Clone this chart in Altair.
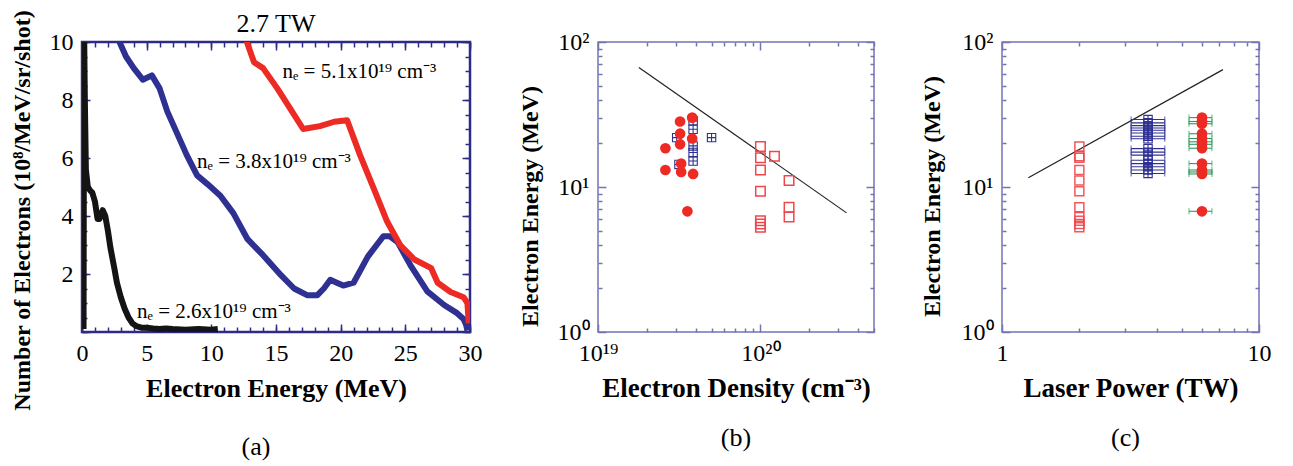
import altair as alt
import pandas as pd

FONT = "Liberation Serif"

# ---------------- panel (a): electron spectra at 2.7 TW ----------------
a_black_E = [0.12, 0.16, 0.22, 0.3, 0.45, 0.6, 0.8, 1.0, 1.2, 1.35, 1.6, 1.8, 2.0, 2.2, 2.5, 2.7,
             3.0, 3.3, 3.6, 3.9, 4.2, 4.6, 5.0, 5.5, 6.0, 6.5, 7.0, 8.0, 9.0, 10.0, 10.5]
a_black_N = [0.1, 10.5, 8.0, 5.6, 5.0, 4.9, 4.8, 4.5, 3.9, 3.9, 4.2, 4.0, 3.5, 2.9, 2.2, 1.7,
             1.2, 0.8, 0.5, 0.3, 0.2, 0.15, 0.15, 0.12, 0.1, 0.12, 0.1, 0.08, 0.1, 0.08, 0.1]

a_blue_E = [2.7, 2.9, 3.4, 4.0, 4.7, 5.4, 6.0, 6.6, 7.3, 8.1, 8.9, 9.7, 10.7, 11.7, 12.8, 14.0,
            15.4, 16.4, 17.4, 18.2, 18.7, 19.2, 19.7, 20.2, 21.0, 22.1, 23.3, 23.8, 24.4, 25.4,
            26.7, 28.0, 29.0, 29.5, 29.7, 29.8]
a_blue_N = [10.3, 10.0, 9.5, 9.1, 8.7, 8.85, 8.4, 7.6, 6.9, 6.1, 5.4, 5.1, 4.7, 4.1, 3.2, 2.65,
            1.95, 1.5, 1.27, 1.27, 1.5, 1.8, 1.7, 1.6, 1.7, 2.6, 3.3, 3.3, 3.1, 2.3,
            1.4, 0.93, 0.65, 0.45, 0.25, 0.05]

a_red_E = [12.6, 12.75, 13.3, 14.0, 15.1, 16.1, 17.1, 18.4, 19.5, 20.5, 21.5, 22.6, 23.6, 24.6,
           25.7, 27.0, 27.5, 28.5, 29.5, 29.8, 29.9]
a_red_N = [10.3, 10.0, 9.3, 9.1, 8.4, 7.7, 7.0, 7.1, 7.25, 7.3, 6.1, 4.9, 3.8, 3.0,
           2.5, 2.2, 1.7, 1.38, 1.2, 1.0, 0.3]

a_text = ["n\u2091 = 5.1x10\u00b9\u2079 cm\u207b\u00b3", "n\u2091 = 3.8x10\u00b9\u2079 cm\u207b\u00b3",
          "n\u2091 = 2.6x10\u00b9\u2079 cm\u207b\u00b3"]
a_text_E = [15.5, 8.9, 4.26]
a_text_N = [8.97, 5.86, 0.69]
a_head = ["2.7 TW"]
a_head_E = [15.0]
a_head_N = [10.62]

a_xmajor = [0, 5, 10, 15, 20, 25, 30]
a_xminor = list(range(0, 31))
a_ymajor = [0, 2, 4, 6, 8, 10]
a_yminor = [i * 0.5 for i in range(0, 21)]

# ---------------- panel (b): energy vs density ----------------
b_line_n = [1.785e19, 3.39e20]
b_line_E = [66.8, 6.63]

b_circ_n = [2.6e19, 2.6e19, 3.2e19, 3.2e19, 3.2e19, 3.25e19, 3.25e19, 3.8e19, 3.8e19, 3.85e19, 3.55e19]
b_circ_E = [18.5, 13.1, 28.3, 23.3, 19.7, 14.5, 12.7, 30.1, 21.6, 12.3, 6.8]

b_cross_n = [3.05e19, 3.15e19, 3.85e19, 3.85e19, 3.85e19, 3.85e19, 3.85e19, 5.0e19]
b_cross_E = [21.9, 14.3, 28.6, 25.0, 19.2, 17.3, 15.1, 21.9]

b_sq_n = [1.0e20, 1.0e20, 1.0e20, 1.22e20, 1.5e20, 1.0e20, 1.5e20, 1.5e20, 1.0e20, 1.0e20, 1.0e20]
b_sq_E = [19.0, 15.9, 13.1, 16.3, 11.1, 9.35, 7.25, 6.22, 5.86, 5.56, 5.27]

b_xmajor = [1e19, 1e20]
b_xminor = [k * 1e19 for k in range(2, 10)] + [k * 1e20 for k in range(2, 6)]
log_ymajor = [1, 10, 100]
log_yminor = [k for k in range(2, 10)] + [k * 10 for k in range(2, 10)]

# ---------------- panel (c): energy vs laser power ----------------
c_line_P = [1.266, 7.24]
c_line_E = [11.6, 64.5]

c_sq_P = [2.0] * 11
c_sq_E = [19.0, 15.9, 13.1, 16.3, 11.1, 9.35, 7.25, 6.22, 5.86, 5.56, 5.27]

c_cross_E = [29.2, 27.7, 26.5, 25.5, 24.6, 23.6, 22.4, 21.5, 18.4, 17.4, 16.6, 15.3, 14.5, 13.8, 13.1, 12.4]
c_cross_P = [3.7] * len(c_cross_E)
c_cross_lo = [3.18] * len(c_cross_E)
c_cross_hi = [4.3] * len(c_cross_E)

c_circ_E = [30.1, 28.3, 27.3, 23.3, 21.6, 20.5, 19.7, 18.5, 14.5, 13.1, 12.7, 12.3, 6.8]
c_circ_P = [6.0] * len(c_circ_E)
c_circ_lo = [5.34] * len(c_circ_E)
c_circ_hi = [6.56] * len(c_circ_E)

c_xmajor = [1, 10]
c_xminor = list(range(2, 10))

# ---------------- styles ----------------
RED = "#ee2a24"
BLUE = "#2e3192"
SQRED = "#f0474a"
GREEN = "#2f9a5c"
FRAME_A = "#2c2c88"
FRAME_B = "#7474b4"
CROSS = "M-1,-1H1V1H-1Z M0,-1V1 M-1,0H1"

W_A, W_B, W_C, H = 388, 276, 257, 290
LFS = 24   # tick label font size


def axis(orient, values, frame, tick=8, labels=True, expr=None, title=None, tfs=26, tpad=10,
         titleY=None):
    kw = dict(orient=orient, values=values, domain=False, ticks=True, tickSize=tick,
              offset=-tick, tickColor=frame, tickWidth=1.5, grid=False)
    if labels:
        kw.update(labels=True, labelFont=FONT, labelFontSize=LFS, labelColor="black",
                  labelPadding=9, labelFlush=False, labelOverlap=False)
        if expr:
            kw["labelExpr"] = expr
    else:
        kw["labels"] = False
    if title:
        kw.update(title=title, titleFont=FONT, titleFontSize=tfs, titleFontWeight="bold",
                  titleColor="black", titlePadding=tpad)
        if titleY is not None:
            kw["titleY"] = titleY
    else:
        kw["title"] = None
    return alt.Axis(**kw)


def caption(t, dx=0):
    return alt.TitleParams(text=t, orient="bottom", font=FONT, fontSize=26,
                           fontWeight="normal", color="black", offset=24, dx=dx)


# ---------- panel (a) ----------
xa = alt.Scale(domain=[0, 30], nice=False, zero=False)
ya = alt.Scale(domain=[0, 10], nice=False)
a_yexpr = "datum.value > 0 ? datum.value : ''"

df_blue = pd.DataFrame({"E": a_blue_E, "N": a_blue_N})
df_red = pd.DataFrame({"E": a_red_E, "N": a_red_N})
df_black = pd.DataFrame({"E": a_black_E, "N": a_black_N})
df_atext = pd.DataFrame({"E": a_text_E, "N": a_text_N, "t": a_text})
df_ahead = pd.DataFrame({"E": a_head_E, "N": a_head_N, "t": a_head})

line_kw = dict(clip=True, strokeWidth=6, strokeJoin="round", strokeCap="butt")
la_blue = alt.Chart(df_blue).mark_line(color=BLUE, **line_kw).encode(
    x=alt.X("E:Q", scale=xa, axis=axis("bottom", a_xmajor, FRAME_A, tick=8,
                                       title="Electron Energy (MeV)", tfs=26, tpad=10)),
    y=alt.Y("N:Q", scale=ya, axis=axis("left", a_ymajor, FRAME_A, tick=8, expr=a_yexpr,
                                       title="Number of Electrons (10\u2078/MeV/sr/shot)",
                                       tfs=24, tpad=15, titleY=168)),
)
la_red = alt.Chart(df_red).mark_line(color=RED, **line_kw).encode(
    x=alt.X("E:Q", scale=xa, axis=axis("bottom", a_xminor, FRAME_A, tick=5, labels=False)),
    y=alt.Y("N:Q", scale=ya, axis=axis("left", a_yminor, FRAME_A, tick=5, labels=False)))
la_black = alt.Chart(df_black).mark_line(color="#141414", **line_kw).encode(
    x=alt.X("E:Q", scale=xa, axis=axis("top", a_xminor, FRAME_A, tick=5, labels=False)),
    y=alt.Y("N:Q", scale=ya, axis=axis("right", a_yminor, FRAME_A, tick=5, labels=False)))
la_head = alt.Chart(df_ahead).mark_text(font=FONT, fontSize=26, align="center", baseline="middle",
                                        color="black").encode(
    x=alt.X("E:Q", scale=xa, axis=None), y=alt.Y("N:Q", scale=ya, axis=None), text="t:N")
la_text = alt.Chart(df_atext).mark_text(font=FONT, fontSize=21, align="left", baseline="middle",
                                        color="black").encode(
    x=alt.X("E:Q", scale=xa, axis=axis("top", a_xmajor, FRAME_A, tick=8, labels=False)),
    y=alt.Y("N:Q", scale=ya, axis=axis("right", a_ymajor, FRAME_A, tick=8, labels=False)),
    text="t:N",
)
panel_a = alt.layer(la_blue, la_red, la_black, la_head, la_text).resolve_axis(
    x="independent", y="independent").properties(
    width=W_A, height=H, title=caption("(a)", dx=-20),
    view=alt.ViewBackground(stroke=FRAME_A, strokeWidth=2.5))

# ---------- panel (b) ----------
xb = alt.Scale(type="log", domain=[1e19, 5e20], nice=False)
yb = alt.Scale(type="log", domain=[1, 100], nice=False)
b_xexpr = "datum.value < 5e19 ? '10\u00b9\u2079' : '10\u00b2\u2070'"
y_logexpr = "datum.value < 5 ? '10\u2070' : datum.value < 50 ? '10\u00b9' : '10\u00b2'"

df_bline = pd.DataFrame({"n": b_line_n, "E": b_line_E})
df_bcirc = pd.DataFrame({"n": b_circ_n, "E": b_circ_E})
df_bcross = pd.DataFrame({"n": b_cross_n, "E": b_cross_E})
df_bsq = pd.DataFrame({"n": b_sq_n, "E": b_sq_E})

lb_line = alt.Chart(df_bline).mark_line(color="#222", strokeWidth=1.2).encode(
    x=alt.X("n:Q", scale=xb, axis=axis("bottom", b_xmajor, FRAME_B, tick=8, expr=b_xexpr,
                                       title="Electron Density (cm\u207b\u00b3)", tfs=27, tpad=10)),
    y=alt.Y("E:Q", scale=yb, axis=axis("left", log_ymajor, FRAME_B, tick=8, expr=y_logexpr,
                                       title="Electron Energy (MeV)", tfs=24, tpad=15, titleY=164)),
)
lb_sq = alt.Chart(df_bsq).mark_point(shape="square", filled=False, color=SQRED, size=90,
                                     strokeWidth=1.5, opacity=1).encode(
    x=alt.X("n:Q", scale=xb, axis=axis("bottom", b_xminor, FRAME_B, tick=4, labels=False)),
    y=alt.Y("E:Q", scale=yb, axis=axis("left", log_yminor, FRAME_B, tick=4, labels=False)))
lb_cross = alt.Chart(df_bcross).mark_point(shape=CROSS, filled=False, color=BLUE, size=70,
                                           strokeWidth=1.1, opacity=1).encode(
    x=alt.X("n:Q", scale=xb, axis=axis("top", b_xminor, FRAME_B, tick=4, labels=False)),
    y=alt.Y("E:Q", scale=yb, axis=axis("right", log_yminor, FRAME_B, tick=4, labels=False)))
lb_circ = alt.Chart(df_bcirc).mark_circle(color=RED, size=115, opacity=1).encode(
    x=alt.X("n:Q", scale=xb, axis=axis("top", b_xmajor, FRAME_B, tick=8, labels=False)),
    y=alt.Y("E:Q", scale=yb, axis=axis("right", log_ymajor, FRAME_B, tick=8, labels=False)),
)
panel_b = alt.layer(lb_line, lb_sq, lb_cross, lb_circ).resolve_axis(
    x="independent", y="independent").properties(
    width=W_B, height=H, title=caption("(b)"),
    view=alt.ViewBackground(stroke=FRAME_B, strokeWidth=1.5))

# ---------- panel (c) ----------
xc = alt.Scale(type="log", domain=[1, 10], nice=False)
yc = alt.Scale(type="log", domain=[1, 100], nice=False)
c_xexpr = "datum.value < 5 ? '1' : '10'"

df_cline = pd.DataFrame({"P": c_line_P, "E": c_line_E})
df_csq = pd.DataFrame({"P": c_sq_P, "E": c_sq_E})
df_ccross = pd.DataFrame({"P": c_cross_P, "E": c_cross_E, "lo": c_cross_lo, "hi": c_cross_hi})
df_ccirc = pd.DataFrame({"P": c_circ_P, "E": c_circ_E, "lo": c_circ_lo, "hi": c_circ_hi})

noax = dict(axis=None)
lc_line = alt.Chart(df_cline).mark_line(color="#222", strokeWidth=1.2).encode(
    x=alt.X("P:Q", scale=xc, axis=axis("bottom", c_xmajor, FRAME_B, tick=8, expr=c_xexpr,
                                       title="Laser Power (TW)", tfs=27, tpad=10)),
    y=alt.Y("E:Q", scale=yc, axis=axis("left", log_ymajor, FRAME_B, tick=8, expr=y_logexpr,
                                       title="Electron Energy (MeV)", tfs=24, tpad=17, titleY=154)),
)
lc_sq = alt.Chart(df_csq).mark_point(shape="square", filled=False, color=SQRED, size=80,
                                     strokeWidth=1.5, opacity=0.9).encode(
    x=alt.X("P:Q", scale=xc, axis=axis("bottom", c_xminor, FRAME_B, tick=4, labels=False)),
    y=alt.Y("E:Q", scale=yc, axis=axis("left", log_yminor, FRAME_B, tick=4, labels=False)))
lc_bbar = alt.Chart(df_ccross).mark_rule(color=BLUE, strokeWidth=1.1).encode(
    x=alt.X("lo:Q", scale=xc, **noax), x2="hi:Q", y=alt.Y("E:Q", scale=yc, **noax))
lc_bcap1 = alt.Chart(df_ccross).mark_tick(color=BLUE, orient="vertical", size=6, thickness=1.1).encode(
    x=alt.X("lo:Q", scale=xc, **noax), y=alt.Y("E:Q", scale=yc, **noax))
lc_bcap2 = alt.Chart(df_ccross).mark_tick(color=BLUE, orient="vertical", size=6, thickness=1.1).encode(
    x=alt.X("hi:Q", scale=xc, **noax), y=alt.Y("E:Q", scale=yc, **noax))
lc_cross = alt.Chart(df_ccross).mark_point(shape=CROSS, filled=False, color=BLUE, size=70,
                                           strokeWidth=1.1, opacity=1).encode(
    x=alt.X("P:Q", scale=xc, axis=axis("top", c_xminor, FRAME_B, tick=4, labels=False)),
    y=alt.Y("E:Q", scale=yc, axis=axis("right", log_yminor, FRAME_B, tick=4, labels=False)))
lc_gbar = alt.Chart(df_ccirc).mark_rule(color=GREEN, strokeWidth=1.1).encode(
    x=alt.X("lo:Q", scale=xc, **noax), x2="hi:Q", y=alt.Y("E:Q", scale=yc, **noax))
lc_gcap1 = alt.Chart(df_ccirc).mark_tick(color=GREEN, orient="vertical", size=6, thickness=1.1).encode(
    x=alt.X("lo:Q", scale=xc, **noax), y=alt.Y("E:Q", scale=yc, **noax))
lc_gcap2 = alt.Chart(df_ccirc).mark_tick(color=GREEN, orient="vertical", size=6, thickness=1.1).encode(
    x=alt.X("hi:Q", scale=xc, **noax), y=alt.Y("E:Q", scale=yc, **noax))
lc_circ = alt.Chart(df_ccirc).mark_circle(color=RED, size=115, opacity=1).encode(
    x=alt.X("P:Q", scale=xc, axis=axis("top", c_xmajor, FRAME_B, tick=8, labels=False)),
    y=alt.Y("E:Q", scale=yc, axis=axis("right", log_ymajor, FRAME_B, tick=8, labels=False)),
)
panel_c = alt.layer(lc_line, lc_sq, lc_bbar, lc_bcap1, lc_bcap2, lc_cross,
                    lc_gbar, lc_gcap1, lc_gcap2, lc_circ).resolve_axis(
    x="independent", y="independent").properties(
    width=W_C, height=H, title=caption("(c)", dx=-5),
    view=alt.ViewBackground(stroke=FRAME_B, strokeWidth=1.5))

chart = alt.hconcat(panel_a, panel_b, panel_c, spacing=128, bounds="flush").properties(
    padding={"left": 0, "top": 0, "right": 0, "bottom": 0},
    background="white",
)

chart.save("out.html", embed_options={"renderer": "svg", "actions": False})
